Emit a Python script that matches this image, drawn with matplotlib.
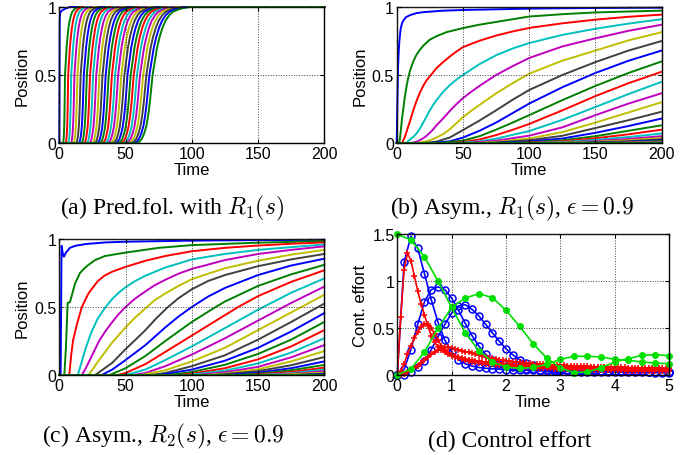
import numpy as np
import matplotlib
matplotlib.use("Agg")
import matplotlib.pyplot as plt

plt.rcParams["font.family"] = ["Liberation Sans", "DejaVu Sans"]
plt.rcParams["mathtext.fontset"] = "cm"

# MATLAB default colour order
cycle = [(0, 0, 1), (0, 0.5, 0), (1, 0, 0), (0, 0.75, 0.75),
         (0.75, 0, 0.75), (0.75, 0.75, 0), (0.25, 0.25, 0.25)]

# (a) predecessor following: leader, then per-vehicle start / half-way / settle times
lead_t_a = [0, 0.3, 0.6, 1.5, 3, 5, 8, 200]
lead_y_a = [0, 0.9, 0.955, 0.97, 0.98, 0.99, 1.0, 1.0]
start_a = [2.8, 4.8, 6.7, 8.8, 10.7, 12.7, 14.7, 16.7, 18.7, 20.6, 22.6, 24.7, 26.6, 28.6, 30.5,
           32.6, 34.6, 36.5, 38.5, 40.5, 42.5, 44.5, 46.4, 48.5, 50.4, 52.4, 54.4, 56.4, 58.4]
mid_a = [4.3, 6.7, 9.0, 11.4, 13.7, 16.1, 18.5, 20.8, 23.2, 25.5, 27.9, 30.3, 32.6, 35.0, 37.3,
         39.7, 42.1, 44.4, 46.8, 49.1, 51.5, 53.9, 56.2, 58.6, 60.9, 63.3, 65.7, 68.0, 70.4]
end_a = [14.3, 17.3, 20.3, 23.3, 26.3, 29.3, 32.4, 35.3, 38.3, 41.3, 44.3, 47.4, 50.3, 53.4, 56.3,
         59.3, 62.4, 65.3, 68.4, 71.3, 74.4, 77.4, 80.3, 83.4, 86.3, 89.4, 92.4, 95.4, 98.4]
# shape of one step: level reached at a fraction of the rise
low_lv = [0, 0.01, 0.03, 0.07, 0.12, 0.2, 0.3, 0.5]
low_fr = [0, 0.18, 0.32, 0.47, 0.6, 0.72, 0.83, 1.0]
up_lv = [0.5, 0.6, 0.7, 0.78, 0.85, 0.9, 0.94, 0.965, 0.98, 0.992, 1.0]
up_fr = [0, 0.06, 0.12, 0.19, 0.27, 0.35, 0.45, 0.55, 0.68, 0.82, 1.0]

# (b) asymmetric, R1(s): (time, position) points of each vehicle
pos_b = [
    [(0, 0), (0.25, 0.15), (0.5, 0.3), (1, 0.55), (1.5, 0.67), (2, 0.75), (3, 0.84), (4, 0.88), (5, 0.9),
     (7, 0.925), (10, 0.94), (15, 0.955), (20, 0.962), (35, 0.973), (50, 0.978), (100, 0.988),
     (150, 0.993), (200, 0.995)],
    [(0, 0), (2, 0), (3, 0.08), (4, 0.18), (5, 0.25), (6, 0.33), (7.5, 0.42), (8.5, 0.47), (10, 0.53),
     (12.5, 0.6), (15, 0.65), (17.5, 0.685), (20, 0.715), (25, 0.76), (30, 0.785), (37.5, 0.815),
     (50, 0.845), (62.5, 0.87), (75, 0.89), (100, 0.93), (125, 0.947), (150, 0.96), (175, 0.967), (200, 0.973)],
    [(0, 0), (4, 0), (6, 0.04), (7, 0.07), (8, 0.1), (10, 0.16), (12.5, 0.24), (15, 0.31), (17.5, 0.37),
     (20, 0.42), (22.5, 0.46), (25, 0.49), (30, 0.55), (35, 0.595), (40, 0.635), (45, 0.672), (50, 0.705),
     (62.5, 0.752), (75, 0.79), (87.5, 0.82), (100, 0.846), (125, 0.88), (150, 0.907), (175, 0.928), (200, 0.944)],
    [(0, 0), (7, 0), (10, 0.025), (12.5, 0.045), (15, 0.07), (17.5, 0.105), (20, 0.15), (22.5, 0.195),
     (25, 0.24), (27.5, 0.28), (30, 0.315), (35, 0.375), (40, 0.425), (45, 0.465), (50, 0.5), (62.5, 0.58),
     (75, 0.645), (87.5, 0.695), (100, 0.735), (125, 0.795), (150, 0.84), (175, 0.878), (200, 0.91)],
    [(0, 0), (11, 0), (15, 0.01), (17.5, 0.02), (20, 0.035), (22.5, 0.053), (25, 0.075), (27.5, 0.1),
     (30, 0.13), (35, 0.18), (40, 0.235), (45, 0.285), (50, 0.33), (56, 0.375), (62.5, 0.42), (75, 0.5),
     (87.5, 0.565), (100, 0.625), (125, 0.71), (150, 0.77), (175, 0.825), (200, 0.87)],
    [(0, 0), (15, 0), (20, 0.008), (22.5, 0.013), (25, 0.02), (30, 0.04), (35, 0.065), (40, 0.1),
     (45, 0.145), (50, 0.19), (56, 0.235), (62.5, 0.28), (75, 0.365), (87.5, 0.44), (100, 0.51),
     (125, 0.605), (150, 0.68), (175, 0.755), (200, 0.815)],
    [(0, 0), (20, 0), (30, 0.01), (40, 0.04), (50, 0.095), (62.5, 0.165), (75, 0.24), (87.5, 0.318),
     (100, 0.39), (125, 0.5), (150, 0.595), (175, 0.68), (200, 0.75)],
    [(0, 0), (26, 0), (40, 0.012), (50, 0.04), (62.5, 0.09), (75, 0.15), (87.5, 0.22), (100, 0.29),
     (125, 0.41), (150, 0.515), (175, 0.605), (200, 0.68)],
    [(0, 0), (33, 0), (50, 0.018), (62.5, 0.05), (75, 0.098), (87.5, 0.15), (100, 0.205), (125, 0.315),
     (150, 0.42), (175, 0.515), (200, 0.6)],
    [(0, 0), (40, 0), (50, 0.007), (62.5, 0.026), (75, 0.058), (87.5, 0.097), (100, 0.14), (125, 0.24),
     (150, 0.345), (175, 0.44), (200, 0.524)],
    [(0, 0), (47, 0), (62.5, 0.012), (75, 0.032), (100, 0.088), (125, 0.17), (150, 0.265), (175, 0.36), (200, 0.45)],
    [(0, 0), (54, 0), (75, 0.017), (100, 0.054), (125, 0.115), (150, 0.205), (175, 0.29), (200, 0.366)],
    [(0, 0), (61, 0), (75, 0.008), (100, 0.033), (125, 0.08), (150, 0.15), (175, 0.225), (200, 0.3)],
    [(0, 0), (68, 0), (100, 0.02), (125, 0.053), (150, 0.11), (175, 0.168), (200, 0.23)],
    [(0, 0), (75, 0), (100, 0.011), (125, 0.033), (150, 0.075), (175, 0.125), (200, 0.18)],
    [(0, 0), (82, 0), (100, 0.005), (125, 0.02), (150, 0.05), (175, 0.09), (200, 0.13)],
    [(0, 0), (90, 0), (125, 0.012), (150, 0.035), (175, 0.064), (200, 0.098)],
    [(0, 0), (98, 0), (125, 0.007), (150, 0.023), (175, 0.044), (200, 0.07)],
    [(0, 0), (106, 0), (125, 0.003), (150, 0.014), (175, 0.03), (200, 0.05)],
    [(0, 0), (114, 0), (150, 0.009), (175, 0.02), (200, 0.037)],
    [(0, 0), (122, 0), (150, 0.005), (175, 0.013), (200, 0.027)],
    [(0, 0), (130, 0), (150, 0.003), (175, 0.009), (200, 0.02)],
    [(0, 0), (138, 0), (175, 0.006), (200, 0.015)],
    [(0, 0), (146, 0), (175, 0.004), (200, 0.01)],
    [(0, 0), (154, 0), (175, 0.002), (200, 0.007)],
    [(0, 0), (162, 0), (200, 0.005)],
    [(0, 0), (170, 0), (200, 0.003)],
    [(0, 0), (178, 0), (200, 0.002)],
    [(0, 0), (186, 0), (200, 0.001)],
    [(0, 0), (200, 0)],
]

# (c) asymmetric, R2(s)
pos_c = [
    [(0, 0), (1, 0), (1.7, 0.95), (2.5, 0.9), (3.5, 0.87), (5, 0.9), (8, 0.935), (12, 0.95), (20, 0.963),
     (35, 0.975), (50, 0.98), (100, 0.988), (150, 0.992), (200, 0.994)],
    [(0, 0), (3.8, 0), (5, 0.2), (6.3, 0.53), (8, 0.535), (9.3, 0.58), (11.8, 0.67), (15.6, 0.75), (19, 0.785),
     (22, 0.81), (27, 0.845), (34.5, 0.875), (50, 0.9), (75, 0.935), (100, 0.955), (150, 0.973), (200, 0.985)],
    [(0, 0), (7.5, 0), (9, 0.15), (10.5, 0.26), (11.5, 0.3), (13.5, 0.38), (17, 0.5), (22, 0.6), (29, 0.69),
     (34, 0.73), (40, 0.76), (50, 0.795), (65, 0.84), (80, 0.875), (100, 0.91), (125, 0.935), (150, 0.952),
     (175, 0.965), (200, 0.975)],
    [(0, 0), (14, 0), (15.5, 0.05), (17, 0.1), (20, 0.2), (24, 0.31), (29, 0.415), (35, 0.5), (40, 0.56),
     (46, 0.615), (50, 0.645), (57, 0.69), (65, 0.73), (80, 0.79), (100, 0.85), (125, 0.89), (150, 0.92),
     (175, 0.94), (200, 0.96)],
    [(0, 0), (17, 0), (20, 0.05), (25, 0.15), (30, 0.25), (35, 0.325), (40, 0.39), (45, 0.45), (50, 0.5),
     (57, 0.56), (65, 0.615), (72, 0.66), (80, 0.7), (90, 0.745), (100, 0.78), (125, 0.845), (150, 0.89),
     (175, 0.92), (200, 0.946)],
    [(0, 0), (22, 0), (25, 0.04), (30, 0.11), (35, 0.175), (40, 0.24), (50, 0.35), (57, 0.42), (65, 0.49),
     (72, 0.55), (80, 0.6), (90, 0.655), (100, 0.705), (125, 0.785), (150, 0.84), (175, 0.885), (200, 0.92)],
    [(0, 0), (27, 0), (30, 0.02), (40, 0.09), (50, 0.19), (57, 0.255), (65, 0.33), (73, 0.415), (82, 0.5),
     (90, 0.565), (100, 0.63), (112, 0.69), (125, 0.735), (150, 0.8), (175, 0.85), (200, 0.89)],
    [(0, 0), (32, 0), (40, 0.04), (50, 0.11), (65, 0.22), (80, 0.35), (90, 0.43), (100, 0.5), (112, 0.575),
     (125, 0.64), (150, 0.735), (175, 0.805), (200, 0.855)],
    [(0, 0), (38, 0), (50, 0.05), (65, 0.14), (80, 0.25), (100, 0.39), (118, 0.5), (125, 0.54), (150, 0.655),
     (175, 0.74), (200, 0.81)],
    [(0, 0), (44, 0), (50, 0.015), (65, 0.08), (80, 0.17), (100, 0.29), (125, 0.44), (135, 0.5), (150, 0.58),
     (175, 0.685), (200, 0.77)],
    [(0, 0), (50, 0), (65, 0.04), (80, 0.11), (100, 0.21), (125, 0.345), (150, 0.48), (175, 0.605), (200, 0.71)],
    [(0, 0), (56, 0), (65, 0.015), (80, 0.065), (100, 0.15), (125, 0.27), (150, 0.4), (175, 0.53), (200, 0.65)],
    [(0, 0), (62, 0), (80, 0.035), (100, 0.1), (125, 0.2), (150, 0.33), (175, 0.46), (200, 0.59)],
    [(0, 0), (69, 0), (80, 0.015), (100, 0.065), (125, 0.145), (150, 0.26), (175, 0.39), (200, 0.525)],
    [(0, 0), (76, 0), (100, 0.04), (125, 0.105), (150, 0.2), (175, 0.32), (200, 0.455)],
    [(0, 0), (83, 0), (100, 0.022), (125, 0.075), (150, 0.155), (175, 0.26), (200, 0.39)],
    [(0, 0), (90, 0), (100, 0.01), (125, 0.05), (150, 0.115), (175, 0.21), (200, 0.33)],
    [(0, 0), (97, 0), (125, 0.032), (150, 0.085), (175, 0.165), (200, 0.27)],
    [(0, 0), (104, 0), (125, 0.02), (150, 0.06), (175, 0.13), (200, 0.22)],
    [(0, 0), (111, 0), (125, 0.01), (150, 0.042), (175, 0.1), (200, 0.176)],
    [(0, 0), (118, 0), (150, 0.028), (175, 0.072), (200, 0.132)],
    [(0, 0), (126, 0), (150, 0.017), (175, 0.05), (200, 0.1)],
    [(0, 0), (134, 0), (150, 0.009), (175, 0.035), (200, 0.074)],
    [(0, 0), (142, 0), (175, 0.022), (200, 0.054)],
    [(0, 0), (150, 0), (175, 0.013), (200, 0.04)],
    [(0, 0), (158, 0), (175, 0.007), (200, 0.028)],
    [(0, 0), (166, 0), (200, 0.018)],
    [(0, 0), (174, 0), (200, 0.01)],
    [(0, 0), (182, 0), (200, 0.005)],
    [(0, 0), (200, 0)],
]

# (d) control effort: blue sampled every 0.125, red every 0.0625, green every 0.25
t_blue = np.arange(41) * 0.125
blue1 = [0, 1.2, 1.48, 1.35, 1.08, 0.8, 0.56, 0.37, 0.245, 0.165, 0.12, 0.095, 0.08, 0.072, 0.066, 0.062,
         0.058, 0.055, 0.052, 0.05, 0.048, 0.046, 0.044, 0.042, 0.04, 0.039, 0.037, 0.036, 0.035, 0.034,
         0.033, 0.032, 0.031, 0.03, 0.029, 0.028, 0.027, 0.027, 0.026, 0.025, 0.025]
blue2 = [0, 0.06, 0.27, 0.54, 0.78, 0.91, 0.94, 0.91, 0.82, 0.69, 0.55, 0.42, 0.31, 0.22, 0.16, 0.12,
         0.095, 0.08, 0.07, 0.064, 0.06, 0.057, 0.055, 0.053, 0.051, 0.05, 0.048, 0.047, 0.046, 0.045,
         0.044, 0.043, 0.042, 0.041, 0.04, 0.039, 0.038, 0.037, 0.036, 0.036, 0.035]
blue3 = [0, 0.005, 0.03, 0.08, 0.15, 0.27, 0.41, 0.54, 0.66, 0.735, 0.75, 0.7, 0.63, 0.54, 0.45, 0.36,
         0.28, 0.215, 0.165, 0.13, 0.105, 0.088, 0.076, 0.068, 0.062, 0.058, 0.055, 0.052, 0.05, 0.048,
         0.046, 0.044, 0.043, 0.041, 0.04, 0.039, 0.038, 0.037, 0.036, 0.035, 0.034]

t_red = np.arange(81) * 0.0625
red1 = [0, 0.62, 1.12, 1.3, 1.22, 1.06, 0.9, 0.76, 0.64, 0.52, 0.42, 0.35, 0.3, 0.265, 0.24, 0.22,
        0.205, 0.19, 0.178, 0.167, 0.158, 0.15, 0.143, 0.137, 0.131, 0.126, 0.121, 0.117, 0.113, 0.109,
        0.105, 0.102, 0.099, 0.096, 0.093, 0.091, 0.088, 0.086, 0.084, 0.082, 0.08,
        0.078, 0.076, 0.074, 0.072, 0.071, 0.069, 0.068, 0.066, 0.065, 0.064, 0.062, 0.061, 0.06, 0.059,
        0.058, 0.057, 0.056, 0.055, 0.054, 0.053, 0.052, 0.051, 0.05, 0.05, 0.049, 0.048, 0.047, 0.047,
        0.046, 0.045, 0.045, 0.044, 0.043, 0.043, 0.042, 0.042, 0.041, 0.04, 0.04, 0.039]
red2 = [0, 0.04, 0.12, 0.22, 0.31, 0.39, 0.46, 0.51, 0.54, 0.54, 0.5, 0.44, 0.37, 0.31, 0.265, 0.235,
        0.215, 0.2, 0.19, 0.18, 0.172, 0.165, 0.158, 0.152, 0.147, 0.142, 0.138, 0.134, 0.13, 0.126,
        0.123, 0.12, 0.117, 0.114, 0.111, 0.108, 0.106, 0.104, 0.102, 0.1, 0.098,
        0.096, 0.094, 0.092, 0.09, 0.089, 0.087, 0.086, 0.084, 0.083, 0.082, 0.08, 0.079, 0.078, 0.077,
        0.076, 0.075, 0.074, 0.073, 0.072, 0.071, 0.07, 0.069, 0.068, 0.068, 0.067, 0.066, 0.065, 0.065,
        0.064, 0.063, 0.063, 0.062, 0.061, 0.061, 0.06, 0.06, 0.059, 0.058, 0.058, 0.057]
red3 = [0, 0.005, 0.015, 0.03, 0.05, 0.075, 0.1, 0.13, 0.16, 0.19, 0.22, 0.245, 0.27, 0.285, 0.295, 0.295,
        0.29, 0.28, 0.27, 0.26, 0.25, 0.24, 0.23, 0.22, 0.21, 0.2, 0.192, 0.184, 0.177, 0.17,
        0.164, 0.158, 0.153, 0.148, 0.143, 0.139, 0.135, 0.131, 0.128, 0.125, 0.122,
        0.119, 0.116, 0.114, 0.112, 0.11, 0.108, 0.106, 0.104, 0.102, 0.1, 0.099, 0.097, 0.096, 0.094,
        0.093, 0.092, 0.09, 0.089, 0.088, 0.087, 0.086, 0.085, 0.084, 0.083, 0.082, 0.081, 0.08, 0.079,
        0.079, 0.078, 0.077, 0.076, 0.076, 0.075, 0.074, 0.074, 0.073, 0.072, 0.072, 0.071]

t_green = np.arange(21) * 0.25
green1 = [1.5, 1.44, 1.26, 1.0, 0.72, 0.45, 0.26, 0.14, 0.085, 0.07, 0.08, 0.115, 0.167, 0.199, 0.2,
          0.192, 0.167, 0.156, 0.139, 0.128, 0.12]
green2 = [0, 0.065, 0.245, 0.5, 0.72, 0.82, 0.867, 0.825, 0.69, 0.52, 0.334, 0.18, 0.075, 0.025, 0.032,
          0.078, 0.139, 0.174, 0.21, 0.217, 0.206]

captions = ["(a) Pred.fol. with $R_1(s)$", r"(b) Asym., $R_1(s)$, $\epsilon=0.9$",
            r"(c) Asym., $R_2(s)$, $\epsilon=0.9$", "(d) Control effort"]

W, H = 699, 456
fig = plt.figure(figsize=(W / 100, H / 100), dpi=100)


def px_axes(left, top, right, bottom):
    return fig.add_axes([left / W, 1 - bottom / H, (right - left) / W, (bottom - top) / H])


def style(ax, xticks, yticks, ylabel):
    ax.set_xticks(xticks)
    ax.set_xticklabels([f"{v:g}" for v in xticks])
    ax.set_yticks(yticks)
    ax.set_yticklabels([f"{v:g}" for v in yticks])
    ax.tick_params(direction="in", top=True, right=True, length=3, width=0.8,
                   labelsize=11.5, pad=2)
    ax.grid(True, linestyle=":", color="0.25", linewidth=0.7)
    ax.set_axisbelow(False)
    for s in ax.spines.values():
        s.set_linewidth(1.0)
    ax.set_xlabel("Time", fontsize=12, labelpad=1)
    ax.set_ylabel(ylabel, fontsize=12, labelpad=3)


ax_a = px_axes(59.3, 8, 324.3, 144)
ax_b = px_axes(396.7, 8, 661.7, 144)
ax_c = px_axes(59.3, 240, 324.3, 376)
ax_d = px_axes(397.3, 235.3, 669, 376)

lw = 1.4
ax_a.plot(lead_t_a, lead_y_a, color=cycle[0], lw=lw, clip_on=False)
for i in range(len(mid_a)):
    s, m, e = start_a[i], mid_a[i], end_a[i]
    tt = [0] + [s + f * (m - s) for f in low_fr] + [m + f * (e - m) for f in up_fr[1:]] + [200]
    yy = [0] + low_lv + up_lv[1:] + [1]
    ax_a.plot(tt, yy, color=cycle[(i + 1) % 7], lw=lw, clip_on=False)

for ax, curves in ((ax_b, pos_b), (ax_c, pos_c)):
    for k, pts in enumerate(curves):
        tt, yy = zip(*pts)
        ax.plot(tt, yy, color=cycle[k % 7], lw=lw, clip_on=False)

for ax in (ax_a, ax_b, ax_c):
    ax.set_xlim(0, 200)
    ax.set_ylim(0, 1)
    style(ax, [0, 50, 100, 150, 200], [0, 0.5, 1], "Position")

for yy in (blue1, blue2, blue3):
    ax_d.plot(t_blue, yy, "-o", color="b", lw=1.2, ms=5, mfc="none", mew=1.1, clip_on=False)
for yy in (red1, red2, red3):
    ax_d.plot(t_red, yy, "-+", color="r", lw=1.2, ms=4.5, mew=1.1, clip_on=False)
for yy in (green1, green2):
    ax_d.plot(t_green, yy, ".-", color="#00e000", lw=1.2, ms=8, clip_on=False)
ax_d.set_xlim(0, 5)
ax_d.set_ylim(0, 1.5)
style(ax_d, [0, 1, 2, 3, 4, 5], [0, 0.5, 1, 1.5], "Cont. effort")

cap_pos = [(172, 208), (512, 208), (163, 436), (510, 441)]
for (cx, cy), txt in zip(cap_pos, captions):
    fig.text(cx / W, 1 - cy / H, txt, ha="center", va="center", fontsize=17,
             family=["Liberation Serif", "DejaVu Serif"])

fig.savefig("out.png", dpi=100)
